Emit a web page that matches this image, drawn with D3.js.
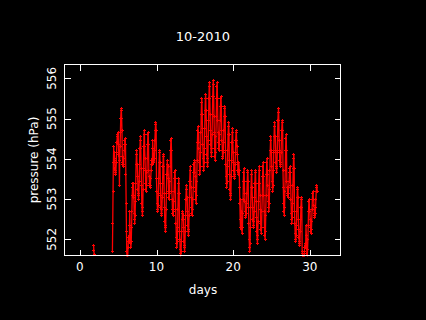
<!DOCTYPE html>
<head>
<meta charset="utf-8">
<title>10-2010 pressure</title>
<script src="https://d3js.org/d3.v7.min.js"></script>
<style>
  body { margin: 0; background: #000; }
  text { font-family: "DejaVu Sans", sans-serif; fill: #fff; }
</style>
</head>
<body>
<div id="container"></div>
<script>

// hourly pressure (hPa), one row per day, hours 0..23, null = no data
const days = [1, 4, 5, 6, 7, 8, 9, 10, 11, 12, 13, 14, 15, 16, 17,
              18, 19, 20, 21, 22, 23, 24, 25, 26, 27, 28, 29, 30];
const pressure = [
  [null,null,null,null,null,null,null,null,null,null,null,null,null,null,null,null,null,null,null,551.85,551.72,551.62,null,null],
  [null,null,null,null,null,null,551.7,552.4,553.2,553.9,554.3,554.0,554.15,553.95,553.75,553.65,553.6,553.7,553.9,554.15,554.4,554.55,554.6,554.4],
  [554.65,554.35,554.1,553.95,553.35,554.05,554.3,554.65,555.0,555.2,555.25,555.0,554.7,554.05,553.9,553.85,553.8,553.85,554.0,554.2,554.35,554.45,554.5,554.35],
  [553.6,552.9,552.2,551.7,551.4,551.45,551.6,551.8,551.95,552.05,552.1,551.95,552.7,552.35,552.05,551.9,551.8,551.95,552.3,552.7,553.1,553.3,553.4,553.1],
  [553.4,553.05,552.65,552.5,552.4,552.6,552.95,553.4,553.85,554.1,554.2,553.85,553.85,553.55,553.25,553.1,553.0,553.15,553.45,553.85,554.25,554.45,554.55,554.25],
  [553.75,553.35,552.9,552.7,552.6,552.8,553.25,553.75,554.3,554.6,554.7,554.3,554.0,553.7,553.4,553.25,553.2,553.35,553.65,554.0,554.35,554.6,554.65,554.35],
  [553.7,553.55,553.4,553.35,553.3,553.35,553.5,553.7,553.85,553.95,554.0,553.85,554.45,554.25,554.05,553.95,553.9,554.0,554.2,554.45,554.7,554.85,554.9,554.7],
  [553.5,553.2,552.9,552.75,552.7,552.85,553.15,553.5,553.9,554.15,554.2,553.9,553.4,553.1,552.8,552.65,552.6,552.75,553.05,553.4,553.8,554.05,554.1,553.8],
  [553.15,552.8,552.45,552.3,552.2,552.35,552.75,553.15,553.6,553.85,553.95,553.6,553.8,553.5,553.2,553.05,553.0,553.15,553.45,553.8,554.2,554.45,554.5,554.2],
  [553.2,553.0,552.75,552.65,552.6,552.7,552.95,553.2,553.5,553.65,553.7,553.5,552.75,552.4,552.05,551.9,551.8,551.95,552.3,552.75,553.15,553.4,553.5,553.15],
  [552.2,552.0,551.75,551.65,551.6,551.7,551.95,552.2,552.5,552.65,552.7,552.5,552.6,552.3,551.95,551.8,551.7,551.85,552.2,552.6,553.0,553.25,553.35,553.0],
  [553.05,552.7,552.35,552.2,552.1,552.25,552.6,553.05,553.45,553.7,553.8,553.45,553.3,553.05,552.8,552.65,552.6,552.75,553.0,553.3,553.65,553.85,553.9,553.65],
  [553.95,553.55,553.2,553.0,552.9,553.1,553.45,553.95,554.4,554.7,554.8,554.4,554.65,554.25,553.9,553.7,553.6,553.8,554.15,554.65,555.1,555.4,555.5,555.1],
  [554.75,554.35,554.0,553.8,553.7,553.9,554.25,554.75,555.2,555.5,555.6,555.2,554.95,554.55,554.1,553.9,553.8,554.0,554.45,554.95,555.5,555.8,555.9,555.5],
  [555.1,554.7,554.35,554.15,554.05,554.25,554.6,555.1,555.55,555.85,555.95,555.55,555.05,554.65,554.25,554.05,553.95,554.15,554.55,555.05,555.5,555.8,555.9,555.5],
  [554.95,554.65,554.4,554.25,554.2,554.35,554.6,554.95,555.3,555.5,555.55,555.3,554.7,554.45,554.2,554.05,554.0,554.15,554.4,554.7,555.05,555.25,555.3,555.05],
  [554.2,553.85,553.55,553.4,553.3,553.45,553.8,554.2,554.6,554.8,554.9,554.6,553.95,553.6,553.25,553.1,553.0,553.15,553.55,553.95,554.4,554.65,554.75,554.4],
  [554.15,553.9,553.7,553.55,553.5,553.6,553.85,554.15,554.45,554.65,554.7,554.45,554.3,554.1,553.9,553.7,553.6,553.65,553.9,553.7,553.3,552.9,552.5,552.3],
  [553.0,552.7,552.4,552.25,552.15,552.3,552.65,553.0,553.45,553.65,553.75,553.45,553.15,552.95,552.7,552.6,552.55,552.65,552.9,553.15,553.45,553.65,553.7,553.45],
  [552.8,552.4,552.0,551.8,551.7,551.9,552.3,552.8,553.3,553.6,553.7,553.3,553.05,552.8,552.5,552.35,552.3,552.45,552.7,553.05,553.4,553.65,553.7,553.4],
  [552.95,552.55,552.2,552.0,551.9,552.1,552.45,552.95,553.4,553.7,553.8,553.4,553.1,552.75,552.4,552.25,552.15,552.3,552.7,553.1,553.55,553.8,553.9,553.55],
  [553.1,552.7,552.3,552.1,552.0,552.2,552.6,553.1,553.6,553.9,554.0,553.6,553.7,553.35,552.95,552.8,552.7,552.9,553.25,553.7,554.2,554.45,554.55,554.2],
  [554.15,553.8,553.45,553.3,553.2,553.35,553.7,554.15,554.55,554.8,554.9,554.55,554.55,554.2,553.9,553.75,553.65,553.8,554.15,554.55,554.95,555.15,555.25,554.95],
  [554.45,554.2,553.95,553.85,553.8,553.9,554.15,554.45,554.7,554.9,554.95,554.7,553.7,553.3,552.9,552.7,552.6,552.8,553.2,553.7,554.2,554.5,554.6,554.2],
  [553.45,553.3,553.15,553.1,553.05,553.15,553.3,553.45,553.65,553.75,553.8,553.65,553.35,553.0,552.65,552.5,552.4,552.55,552.9,553.35,553.75,554.0,554.1,553.75],
  [552.7,552.4,552.15,552.0,551.95,552.1,552.35,552.7,553.05,553.25,553.3,553.05,552.5,552.25,552.05,551.9,551.85,551.95,552.2,552.5,552.8,553.0,553.05,552.8],
  [551.7,551.65,551.55,551.5,551.5,551.55,551.6,551.7,551.8,551.85,551.9,551.8,552.35,552.1,551.8,551.65,551.6,551.75,552.0,552.35,552.7,552.95,553.0,552.7],
  [552.75,552.5,552.3,552.2,552.15,552.25,552.45,552.75,553.0,553.15,553.2,553.0,553.0,552.85,552.65,552.6,552.55,552.65,552.8,553.0,553.2,553.3,553.35,553.2]
];
const xTicks = [0, 10, 20, 30];
const yTicks = [552, 553, 554, 555, 556];

const width = 426, height = 320;
const margin = {top: 64.5, right: 85.5, bottom: 64.5, left: 64.5};
const x0 = margin.left, x1 = width - margin.right;
const y0 = margin.top, y1 = height - margin.bottom;

const svg = d3.select("#container").append("svg")
    .attr("width", width).attr("height", height)
    .style("display", "block").style("background", "#000");

const xScale = d3.scaleLinear().domain([-2, 34]).range([x0, x1]);
const yScale = d3.scaleLinear().domain([551.6, 556.343]).range([y1, y0]);

// flat series; a null is kept between separate days so the trace breaks there
let pts = [];
days.forEach((d, i) => {
  if (i > 0 && d - days[i - 1] > 1) pts.push({t: d, p: null});
  pressure[i].forEach((v, h) => pts.push({t: d + h / 24, p: v}));
});

svg.append("clipPath").attr("id", "clip")
  .append("rect").attr("x", x0).attr("y", y0)
  .attr("width", x1 - x0).attr("height", y1 - y0 + 1);

const plot = svg.append("g").attr("clip-path", "url(#clip)");

// thin trace between samples, dense like the original sampling
const line = d3.line()
  .defined(d => d.p != null)
  .x(d => xScale(d.t)).y(d => yScale(d.p));
plot.append("path").datum(pts)
  .attr("d", line).attr("fill", "none")
  .attr("stroke", "#ff0000").attr("stroke-width", 1.3);

// plus markers on pixel centres
const plus = d => {
  const x = Math.floor(xScale(d.t)) + 0.5, y = Math.floor(yScale(d.p)) + 0.5;
  return `M${x - 1.5},${y - 0.5}h3v1h-3z M${x - 0.5},${y - 1.5}h1v3h-1z`;
};
plot.append("g")
  .selectAll("path").data(pts.filter(d => d.p != null)).join("path")
  .attr("d", plus).attr("fill", "#ff0000")
  .attr("shape-rendering", "crispEdges");

// frame and inward ticks
const ax = svg.append("g").attr("stroke", "#fff").attr("stroke-width", 1)
  .attr("shape-rendering", "crispEdges");
ax.append("rect").attr("x", x0).attr("y", y0)
  .attr("width", x1 - x0).attr("height", y1 - y0).attr("fill", "none");
const tl = 6;
xTicks.forEach(t => {
  const x = Math.round(xScale(t)) + 0.5;
  ax.append("line").attr("x1", x).attr("x2", x).attr("y1", y1).attr("y2", y1 - tl);
  ax.append("line").attr("x1", x).attr("x2", x).attr("y1", y0).attr("y2", y0 + tl);
});
yTicks.forEach(t => {
  const y = Math.round(yScale(t)) + 0.5;
  ax.append("line").attr("x1", x0).attr("x2", x0 + tl).attr("y1", y).attr("y2", y);
  ax.append("line").attr("x1", x1).attr("x2", x1 - tl).attr("y1", y).attr("y2", y);
});

svg.append("g").selectAll("text").data(xTicks).join("text")
  .attr("x", d => xScale(d)).attr("y", 271)
  .attr("text-anchor", "middle").attr("font-size", 12).text(d => d);

svg.append("g").selectAll("text").data(yTicks).join("text")
  .attr("transform", d => `translate(56,${yScale(d)}) rotate(-90)`)
  .attr("text-anchor", "middle").attr("font-size", 12).text(d => d);

svg.append("text").attr("x", 203).attr("y", 41)
  .attr("text-anchor", "middle").attr("font-size", 13).text("10-2010");

svg.append("text").attr("x", 203).attr("y", 294)
  .attr("text-anchor", "middle").attr("font-size", 12).text("days");

svg.append("text").attr("transform", "translate(38,160) rotate(-90)")
  .attr("text-anchor", "middle").attr("font-size", 12).text("pressure (hPa)");

</script>
</body>
